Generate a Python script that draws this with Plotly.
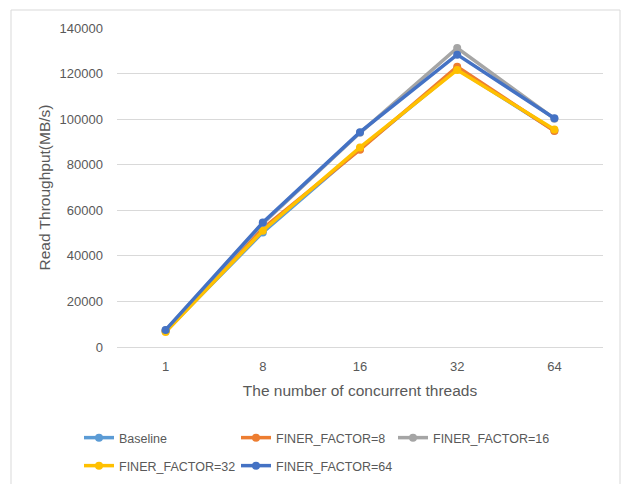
import plotly.graph_objects as go

categories = ["1", "8", "16", "32", "64"]
series_names = ["Baseline", "FINER_FACTOR=8", "FINER_FACTOR=16", "FINER_FACTOR=32", "FINER_FACTOR=64"]
baseline = [7000, 50300, 87000, 122000, 95000]
ff8 = [7000, 52000, 86600, 123000, 94800]
ff16 = [7300, 54200, 94000, 131200, 100200]
ff32 = [6600, 51000, 87600, 121600, 95500]
ff64 = [7500, 54600, 94300, 128300, 100400]
colors = ["#5B9BD5", "#ED7D31", "#A5A5A5", "#FFC000", "#4472C4"]
legend_ids = ["legend", "legend", "legend", "legend2", "legend2"]

font_family = "Liberation Sans, Arial, sans-serif"
text_color = "#595959"

fig = go.Figure()
for name, vals, col, lg in zip(series_names, [baseline, ff8, ff16, ff32, ff64], colors, legend_ids):
    fig.add_trace(go.Scatter(
        x=categories, y=vals, name=name, mode="lines+markers",
        line=dict(color=col, width=3.5),
        marker=dict(color=col, size=8, symbol="circle"),
        legend=lg,
    ))

legend_common = dict(
    orientation="h", xref="container", yref="container",
    xanchor="left", yanchor="middle",
    entrywidth=112, entrywidthmode="pixels",
    font=dict(size=12.5, color=text_color),
    bgcolor="rgba(0,0,0,0)", itemwidth=30,
)

fig.update_layout(
    width=621, height=484,
    margin=dict(l=117, r=18, t=28, b=137, autoexpand=False),
    paper_bgcolor="white", plot_bgcolor="white",
    font=dict(family=font_family, color=text_color, size=13),
    showlegend=True,
    hovermode=False,
    legend=dict(legend_common, x=79/621, y=1-438/484),
    legend2=dict(legend_common, x=79/621, y=1-466/484),
    xaxis=dict(
        type="category", range=[-0.5, 4.5], showgrid=False, showline=True, linecolor="#D9D9D9",
        ticks="", tickfont=dict(size=13, color=text_color), ticklabelstandoff=7,
        title=dict(text="The number of concurrent threads", font=dict(size=15.5, color=text_color), standoff=12),
    ),
    yaxis=dict(
        range=[0, 140000], dtick=20000, showgrid=True, gridcolor="#D9D9D9", gridwidth=1,
        zeroline=False, showline=False, ticks="", tickformat="d",
        tickfont=dict(size=13, color=text_color), ticklabelstandoff=13,
        title=dict(text="Read Throughput(MB/s)", font=dict(size=15.5, color=text_color), standoff=5),
    ),
    shapes=[dict(type="rect", xref="paper", yref="paper",
                 x0=(11-117)/486, x1=(620-117)/486, y0=(347-495)/319, y1=(347-10)/319,
                 line=dict(color="#D9D9D9", width=1), fillcolor="rgba(0,0,0,0)", layer="below")],
)

fig.write_html("out.html", config={"displayModeBar": False},
               post_script="document.body.style.margin='0';")
